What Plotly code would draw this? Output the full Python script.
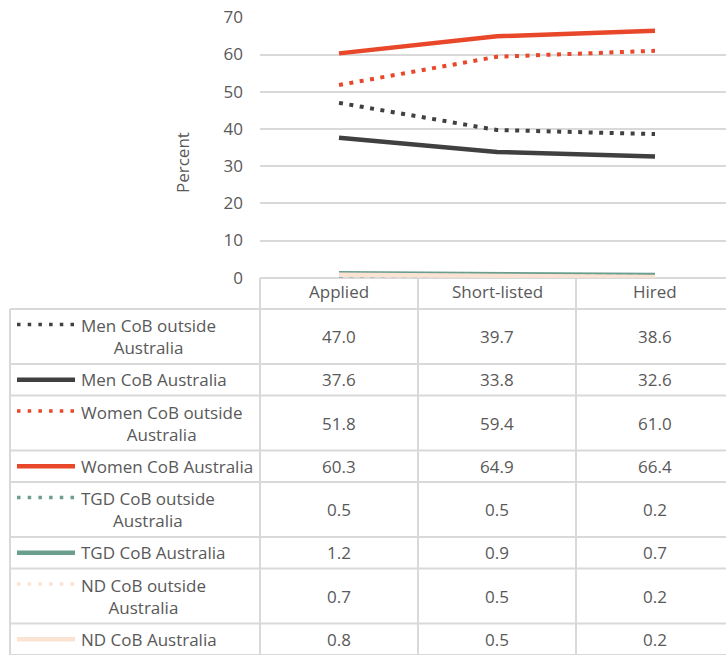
import plotly.graph_objects as go

W, H = 726, 655

stages = ["Applied", "Short-listed", "Hired"]
series_names = [
    "Men CoB outside Australia",
    "Men CoB Australia",
    "Women CoB outside Australia",
    "Women CoB Australia",
    "TGD CoB outside Australia",
    "TGD CoB Australia",
    "ND CoB outside Australia",
    "ND CoB Australia",
]
men_outside = [47.0, 39.7, 38.6]
men_aus = [37.6, 33.8, 32.6]
women_outside = [51.8, 59.4, 61.0]
women_aus = [60.3, 64.9, 66.4]
tgd_outside = [0.5, 0.5, 0.2]
tgd_aus = [1.2, 0.9, 0.7]
nd_outside = [0.7, 0.5, 0.2]
nd_aus = [0.8, 0.5, 0.2]
y_ticks = [0, 10, 20, 30, 40, 50, 60, 70]

values = [men_outside, men_aus, women_outside, women_aus,
          tgd_outside, tgd_aus, nd_outside, nd_aus]
colors = ["#404040", "#404040", "#e8472a", "#e8472a",
          "#6a9e8f", "#6a9e8f", "#fbe3d4", "#fbe3d4"]
dotted = [True, False, True, False, True, False, True, False]

FONT = "Open Sans"
FS = 17
TXT = "#595959"
GRID = "#d9d9d9"


def px(x):
    return x / W


def py(y):
    return 1 - y / H


# plot area geometry (pixels)
PL, PR_FULL = 260, 734          # category band runs past the right edge
PT, PB = 17.3, 277.7
COLW = (PR_FULL - PL) / 3
x_pos = [i + 0.5 for i in range(3)]
x_max = 3 * (W - PL) / (PR_FULL - PL)

fig = go.Figure()

for name, vals, col, dot in zip(series_names, values, colors, dotted):
    fig.add_trace(go.Scatter(
        x=x_pos, y=vals, mode="lines", name=name, showlegend=False,
        line=dict(color=col, width=4 if dot else 4.5,
                  dash="4px,6.5px" if dot else "solid"),
        hoverinfo="skip", cliponaxis=False,
    ))

# table rows (pixel boundaries)
header_top, header_bot = 278, 309
row_h = [55 if d else 31.5 for d in dotted]
row_edges = [header_bot]
for h in row_h:
    row_edges.append(row_edges[-1] + h)

shapes = []
line_style = dict(color=GRID, width=2)
shapes.append(dict(type="line", xref="paper", yref="paper", layer="below",
                   x0=px(PL), x1=1, y0=py(header_top), y1=py(header_top), line=line_style))
for e in row_edges:
    shapes.append(dict(type="line", xref="paper", yref="paper",
                       x0=px(10), x1=1, y0=py(e), y1=py(e), line=line_style))
shapes.append(dict(type="line", xref="paper", yref="paper",
                   x0=px(10), x1=px(10), y0=py(header_bot), y1=0, line=line_style))
for k in range(3):
    xv = PL + k * COLW
    shapes.append(dict(type="line", xref="paper", yref="paper",
                       x0=px(xv), x1=px(xv), y0=py(header_top), y1=0, line=line_style))

annotations = []
for k, s in enumerate(stages):
    annotations.append(dict(
        x=px(PL + (k + 0.5) * COLW), y=py((header_top + header_bot) / 2 - 2),
        xref="paper", yref="paper", text=s, showarrow=False,
        font=dict(family=FONT, size=FS, color=TXT), xanchor="center", yanchor="middle"))

for r, (name, vals, col, dot) in enumerate(zip(series_names, values, colors, dotted)):
    top, bot = row_edges[r], row_edges[r + 1]
    mid = (top + bot) / 2
    if dot:
        head, tail = name.rsplit(" ", 1)
        label = f"{head}<br>{tail}"
        swatch_y = mid - 12
    else:
        label = name
        swatch_y = mid
    annotations.append(dict(
        x=px(79), y=py(mid), xref="paper", yref="paper", text=label,
        showarrow=False, align="center", xanchor="left", yanchor="middle",
        font=dict(family=FONT, size=FS, color=TXT)))
    # legend key drawn on the full-page overlay axes
    fig.add_trace(go.Scatter(
        x=[17, 75] if dot else [17, 75], y=[swatch_y, swatch_y],
        xaxis="x2", yaxis="y2", mode="lines", showlegend=False, hoverinfo="skip",
        line=dict(color=col, width=3.5 if dot else 4.5,
                  dash="3.5px,7.2px" if dot else "solid")))
    for k, v in enumerate(vals):
        annotations.append(dict(
            x=px(PL + (k + 0.5) * COLW), y=py(mid), xref="paper", yref="paper",
            text=f"{v:.1f}", showarrow=False, xanchor="center", yanchor="middle",
            font=dict(family=FONT, size=FS, color=TXT)))

annotations.append(dict(
    x=px(183), y=py(163), xref="paper", yref="paper", text="Percent",
    textangle=-90, showarrow=False, xanchor="center", yanchor="middle",
    font=dict(family=FONT, size=FS, color=TXT)))

fig.update_layout(
    width=W, height=H,
    margin=dict(l=0, r=0, t=0, b=0, autoexpand=False),
    paper_bgcolor="white", plot_bgcolor="rgba(0,0,0,0)",
    font=dict(family=FONT, size=FS, color=TXT),
    xaxis=dict(domain=[px(PL), 1], range=[0, x_max], showgrid=False, automargin=False,
               showticklabels=False, zeroline=False, showline=False, fixedrange=True),
    yaxis=dict(domain=[py(PB), py(PT)], range=[0, 70], tickvals=y_ticks, automargin=False,
               showgrid=True, gridcolor=GRID, gridwidth=2, zeroline=False,
               showline=False, ticks="", ticklabelstandoff=16,
               tickfont=dict(family=FONT, size=FS, color=TXT), fixedrange=True),
    xaxis2=dict(domain=[0, 1], range=[0, W], visible=False, anchor="y2",
                automargin=False, fixedrange=True),
    yaxis2=dict(domain=[0, 1], range=[H, 0], visible=False, anchor="x2",
                automargin=False, fixedrange=True),
    shapes=shapes,
    annotations=annotations,
)

fig.write_html("out.html")
